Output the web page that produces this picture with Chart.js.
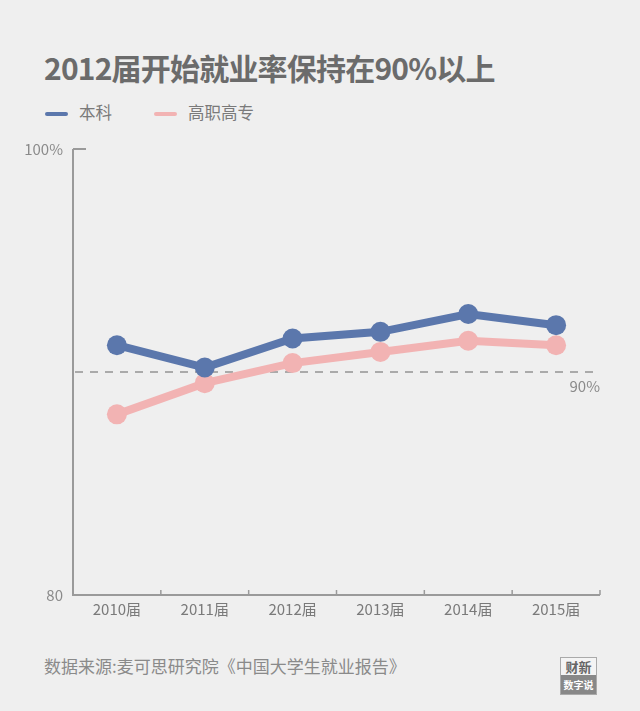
<!DOCTYPE html>
<html><head><meta charset="utf-8">
<script src="https://cdn.jsdelivr.net/npm/chart.js@4/dist/chart.umd.min.js"></script>
<style>
html,body{margin:0;padding:0;background:#efefef;width:640px;height:711px;overflow:hidden;font-family:"Noto Sans CJK SC","Noto Sans",sans-serif;}
#title{position:absolute;left:44px;top:45px;font-size:30px;font-weight:bold;color:#6b6b6b;letter-spacing:-0.8px;white-space:nowrap;}
#legend{position:absolute;left:45px;top:97px;font-size:16.5px;color:#7a7a7a;white-space:nowrap;}
.li{display:inline-block;vertical-align:middle;margin-right:42px;}
.sw{display:inline-block;width:23px;height:4px;vertical-align:middle;margin-right:11px;border-radius:2px;}
#wrap{position:absolute;left:0;top:130px;width:640px;height:500px;}
#src{position:absolute;left:44px;top:653px;font-size:17px;color:#8a8a8a;white-space:nowrap;}
#logo{position:absolute;left:560px;top:657px;width:35px;height:36px;border:1px solid #aaa;background:#f4f4f4;text-align:center;}
#logo .a{font-size:13px;font-weight:bold;color:#666;line-height:17px;}
#logo .b{background:#888;color:#fff;font-size:10px;font-weight:bold;line-height:19px;}
</style></head><body>
<div id="title">2012届开始就业率保持在90%以上</div>
<div id="legend"><span class="li"><span class="sw" style="background:#5b77ac"></span>本科</span><span class="li"><span class="sw" style="background:#f2b3b3"></span>高职高专</span></div>
<div id="wrap"><canvas id="c" width="640" height="500"></canvas></div>
<div id="src">数据来源:麦可思研究院《中国大学生就业报告》</div>
<div id="logo"><div class="a">财新</div><div class="b">数字说</div></div>
<script>
const categories = ["2010届","2011届","2012届","2013届","2014届","2015届"];
const undergrad = [91.2, 90.2, 91.5, 91.8, 92.6, 92.1];
const vocational = [88.1, 89.5, 90.4, 90.9, 91.4, 91.2];
const yTicks = [80, 100];
const refValue = 90;

const FONT = '"Noto Sans CJK SC","Noto Sans",sans-serif';
const AX = '#9a9a9a';

const decor = {
  id:'decor',
  beforeDatasetsDraw(chart){
    const {ctx, chartArea:a, scales:{x,y}} = chart;
    ctx.save();
    const py = y.getPixelForValue(refValue);
    ctx.strokeStyle = '#aaaaaa'; ctx.lineWidth = 2; ctx.setLineDash([8,7]);
    ctx.beginPath(); ctx.moveTo(a.left+2, py); ctx.lineTo(a.right, py); ctx.stroke();
    ctx.setLineDash([]);
    ctx.fillStyle = '#8a8a8a'; ctx.font = '15px '+FONT; ctx.textAlign='right'; ctx.textBaseline='middle';
    ctx.fillText('90%', a.right, py+14);
    ctx.strokeStyle = AX; ctx.lineWidth = 2;
    ctx.beginPath(); ctx.moveTo(a.left, a.top); ctx.lineTo(a.left, a.bottom); ctx.lineTo(a.right, a.bottom); ctx.stroke();
    yTicks.forEach(v=>{ const p=y.getPixelForValue(v); ctx.beginPath(); ctx.moveTo(a.left,p); ctx.lineTo(a.left+13,p); ctx.stroke(); });
    ctx.lineWidth = 1.5;
    const n = categories.length;
    for(let i=0;i<n;i++){
      const p = (i<n-1) ? (x.getPixelForValue(i)+x.getPixelForValue(i+1))/2 : a.right;
      ctx.beginPath(); ctx.moveTo(p, a.bottom); ctx.lineTo(p, a.bottom-5); ctx.stroke();
    }
    ctx.restore();
  }
};

new Chart(document.getElementById('c'), {
  type:'line',
  data:{labels:categories, datasets:[
    {label:'本科', data:undergrad, borderColor:'#5b77ac', backgroundColor:'#5b77ac', borderWidth:8, pointRadius:10, pointHoverRadius:10, pointBorderWidth:0, tension:0},
    {label:'高职高专', data:vocational, borderColor:'#f2b3b3', backgroundColor:'#f2b3b3', borderWidth:8, pointRadius:10, pointHoverRadius:10, pointBorderWidth:0, tension:0}
  ]},
  options:{
    responsive:false, animation:false, devicePixelRatio:1,
    layout:{padding:{top:19, right:40, left:0, bottom:0}},
    plugins:{legend:{display:false}, tooltip:{enabled:false}},
    scales:{
      x:{offset:true, grid:{display:false}, border:{display:false},
         ticks:{color:'#7a7a7a', font:{family:FONT, size:15}, padding:-3, maxRotation:0},
         afterFit(s){ s.height = 35; }},
      y:{min:80, max:100, grid:{display:false}, border:{display:false},
         afterBuildTicks(s){ s.ticks = yTicks.map(v=>({value:v})); },
         ticks:{color:'#8a8a8a', font:{family:FONT, size:15}, padding:2,
                callback:(v)=> v===100 ? '100%' : String(v)},
         afterFit(s){ s.width = 73; }}
    }
  },
  plugins:[decor]
});
</script>
</body></html>
